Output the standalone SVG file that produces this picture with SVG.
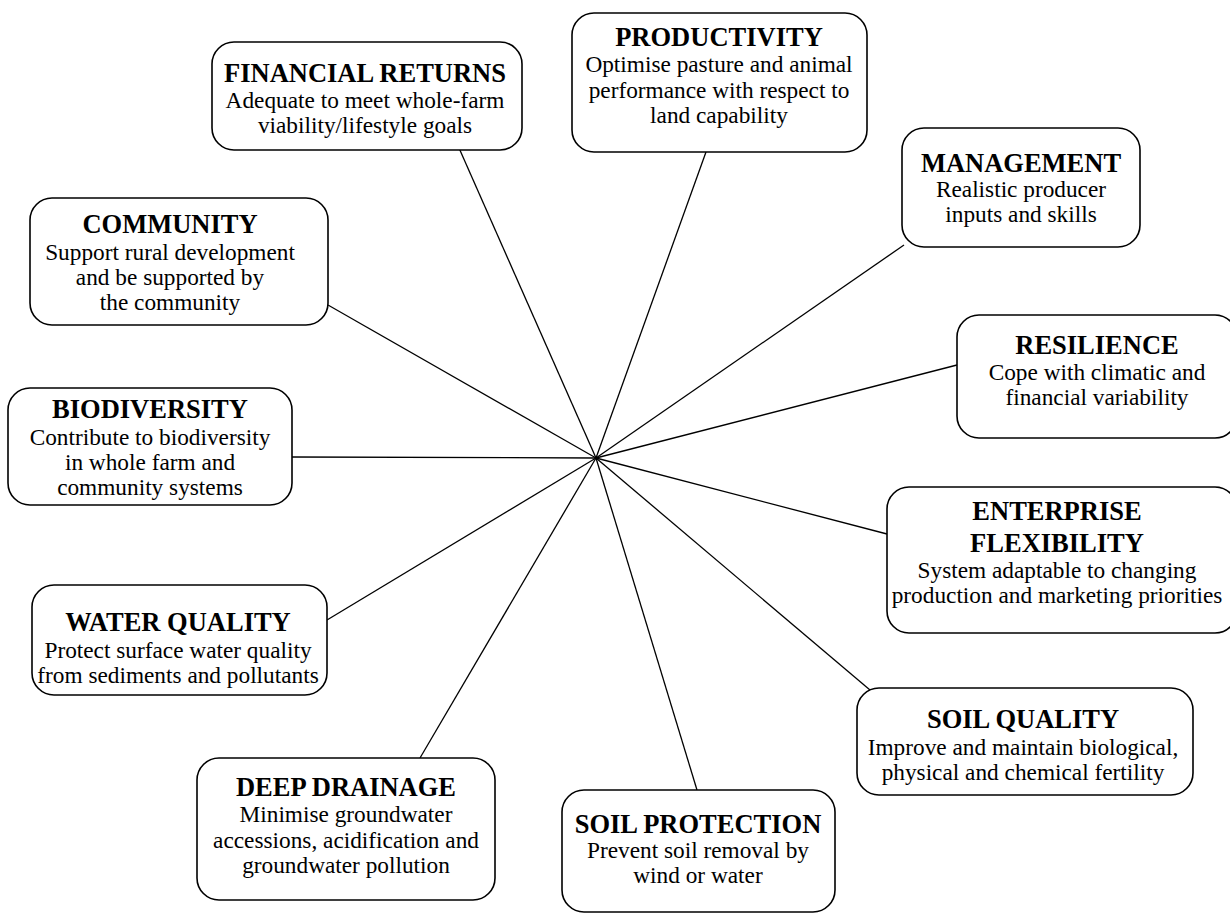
<svg xmlns="http://www.w3.org/2000/svg" width="1230" height="914" viewBox="0 0 1230 914">
<style>
.box{fill:#fff;stroke:#000;stroke-width:1.6}
.t{font-family:"Liberation Serif","Times New Roman",serif;font-weight:bold;font-size:26.5px;text-anchor:middle;fill:#000}
.b{font-family:"Liberation Serif","Times New Roman",serif;font-size:23.3px;text-anchor:middle;fill:#000}
.c{stroke:#000;stroke-width:1.3;fill:none}
</style>
<rect width="1230" height="914" fill="#fff"/>
<g id="connectors">
<line class="c" x1="596" y1="458" x2="459" y2="148"/>
<line class="c" x1="596" y1="458" x2="706" y2="152"/>
<line class="c" x1="596" y1="458" x2="904" y2="245"/>
<line class="c" x1="596" y1="458" x2="957" y2="365"/>
<line class="c" x1="596" y1="458" x2="887" y2="534"/>
<line class="c" x1="596" y1="458" x2="870" y2="690"/>
<line class="c" x1="596" y1="458" x2="697" y2="790"/>
<line class="c" x1="596" y1="458" x2="420" y2="758"/>
<line class="c" x1="596" y1="458" x2="327" y2="620"/>
<line class="c" x1="596" y1="458" x2="292" y2="457"/>
<line class="c" x1="596" y1="458" x2="328" y2="305"/>
</g>
<g id="financial-returns">
<rect class="box" x="212" y="42" width="310" height="108" rx="22"/>
<text class="t" x="365" y="82">FINANCIAL RETURNS</text>
<text class="b" x="365" y="108">Adequate to meet whole-farm</text>
<text class="b" x="365" y="133">viability/lifestyle goals</text>
</g>
<g id="productivity">
<rect class="box" x="572" y="13" width="295" height="139" rx="22"/>
<text class="t" x="719" y="46">PRODUCTIVITY</text>
<text class="b" x="719" y="72">Optimise pasture and animal</text>
<text class="b" x="719" y="98">performance with respect to</text>
<text class="b" x="719" y="123">land capability</text>
</g>
<g id="management">
<rect class="box" x="902" y="128" width="238" height="119" rx="22"/>
<text class="t" x="1021" y="172">MANAGEMENT</text>
<text class="b" x="1021" y="197">Realistic producer</text>
<text class="b" x="1021" y="222">inputs and skills</text>
</g>
<g id="community">
<rect class="box" x="30" y="198" width="298" height="127" rx="22"/>
<text class="t" x="170" y="233">COMMUNITY</text>
<text class="b" x="170" y="260">Support rural development</text>
<text class="b" x="170" y="285">and be supported by</text>
<text class="b" x="170" y="310">the community</text>
</g>
<g id="biodiversity">
<rect class="box" x="8" y="388" width="284" height="117" rx="22"/>
<text class="t" x="150" y="418">BIODIVERSITY</text>
<text class="b" x="150" y="445">Contribute to biodiversity</text>
<text class="b" x="150" y="470">in whole farm and</text>
<text class="b" x="150" y="495">community systems</text>
</g>
<g id="resilience">
<rect class="box" x="957" y="315" width="280" height="123" rx="22"/>
<text class="t" x="1097" y="354">RESILIENCE</text>
<text class="b" x="1097" y="380">Cope with climatic and</text>
<text class="b" x="1097" y="405">financial variability</text>
</g>
<g id="enterprise-flexibility">
<rect class="box" x="887" y="487" width="350" height="146" rx="22"/>
<text class="t" x="1057" y="520">ENTERPRISE</text>
<text class="t" x="1057" y="552">FLEXIBILITY</text>
<text class="b" x="1057" y="578">System adaptable to changing</text>
<text class="b" x="1057" y="603">production and marketing priorities</text>
</g>
<g id="water-quality">
<rect class="box" x="32" y="585" width="295" height="110" rx="22"/>
<text class="t" x="178" y="631">WATER QUALITY</text>
<text class="b" x="178" y="658">Protect surface water quality</text>
<text class="b" x="178" y="683">from sediments and pollutants</text>
</g>
<g id="soil-quality">
<rect class="box" x="857" y="688" width="336" height="107" rx="22"/>
<text class="t" x="1023" y="728">SOIL QUALITY</text>
<text class="b" x="1023" y="755">Improve and maintain biological,</text>
<text class="b" x="1023" y="780">physical and chemical fertility</text>
</g>
<g id="deep-drainage">
<rect class="box" x="197" y="758" width="298" height="142" rx="22"/>
<text class="t" x="346" y="796">DEEP DRAINAGE</text>
<text class="b" x="346" y="822">Minimise groundwater</text>
<text class="b" x="346" y="848">accessions, acidification and</text>
<text class="b" x="346" y="873">groundwater pollution</text>
</g>
<g id="soil-protection">
<rect class="box" x="562" y="790" width="273" height="122" rx="22"/>
<text class="t" x="698" y="833">SOIL PROTECTION</text>
<text class="b" x="698" y="858">Prevent soil removal by</text>
<text class="b" x="698" y="883">wind or water</text>
</g>
</svg>
